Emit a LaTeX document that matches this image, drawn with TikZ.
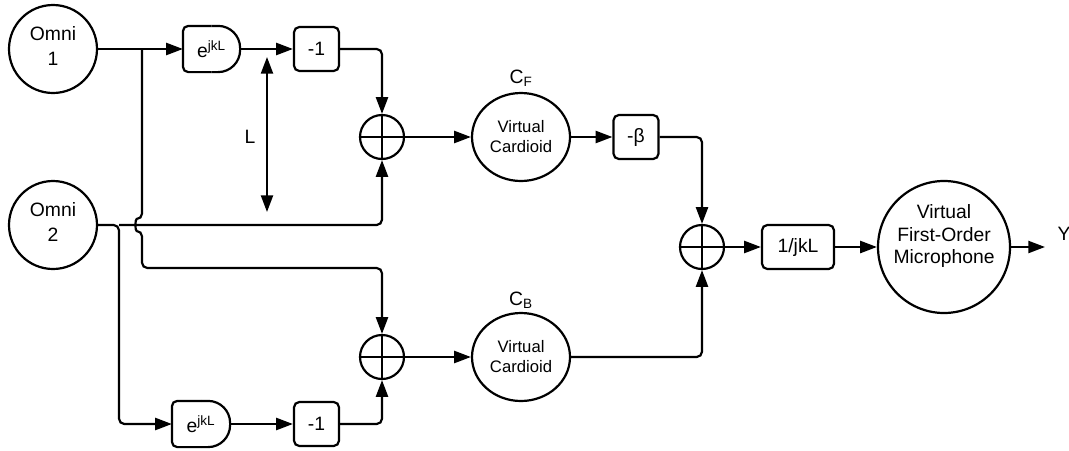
\documentclass[tikz,border=0pt]{standalone}
\usepackage{fontspec}
\setmainfont{Liberation Sans}
\usetikzlibrary{arrows.meta,shapes.geometric,calc}
\begin{document}
\begin{tikzpicture}[x=0.75pt,y=-0.75pt, line width=1.65pt,
  >={Triangle[length=12.5pt,width=9pt]},
  every node/.style={font=\fontsize{14.5}{18.5}\selectfont, inner sep=0pt},
  omni/.style={circle,draw,minimum size=66pt,align=center},
  box/.style={rectangle,draw,rounded corners=4pt,minimum width=33.75pt,minimum height=33pt},
  delay/.style={rectangle,minimum width=41.25pt,minimum height=33pt},
  sumnode/.style={circle,draw,minimum size=33pt,
    path picture={\draw[line width=1.65pt] (path picture bounding box.north) -- (path picture bounding box.south)
      (path picture bounding box.west) -- (path picture bounding box.east);}},
  card/.style={ellipse,draw,minimum width=73.5pt,minimum height=66pt,align=center,
    font=\fontsize{12.5}{15}\selectfont},
  wire/.style={->,rounded corners=4pt}]
\useasboundingbox (0,0) rectangle (1069,450);

% nodes
\node[omni] (o1) at (53,49) {};
\node[align=center] (o1t) at (53,46) {Omni\\1};
\node[omni] (o2) at (53,225) {};
\node[align=center] (o2t) at (53,222) {Omni\\2};
\node[delay] (d1) at (211.5,49) {e\textsuperscript{jkL}\hspace{5pt}};
\node[box] (m1) at (316.5,49) {-1};
\node[sumnode] (s1) at (382,137) {};
\node[card] (cf) at (521,137) {Virtual\\Cardioid};
\node (cfl) at (521,78) {C\textsubscript{F}};
\node[box] (b) at (636,137) {-β};
\node[sumnode] (s3) at (702,247) {};
\node[box, minimum width=54pt] (k) at (798,247) {1/jkL};
\node[circle,draw,minimum size=99pt] (mic) at (944,247) {};
\node[align=center,font=\fontsize{14.5}{17}\selectfont] (mict) at (944,236) {Virtual\\First-Order\\Microphone};
\coordinate (yend) at (1045,247);
\node (y) at (1064,234) {Y};
\node[sumnode] (s2) at (382,357) {};
\node[card] (cb) at (521,357) {Virtual\\Cardioid};
\node (cbl) at (521,300) {C\textsubscript{B}};
\node[delay, minimum width=42pt] (d2) at (201,424) {e\textsuperscript{jkL}\hspace{5pt}};
\node[box] (m2) at (316.5,424) {-1};
\coordinate (j1) at (142,49);
\coordinate (j2) at (119,225);
\coordinate (La) at (267,57);
\coordinate (Lb) at (267,212);
\node (L) at (250,137) {L};

% delay shapes
\foreach \d in {d1,d2}{
  \draw[rounded corners=4pt] (\d.north) -- (\d.north west) -- (\d.south west) -- (\d.south);
  \draw[rounded corners=16.5pt] (\d.north) -- (\d.north east) -- (\d.south east) -- (\d.south);
}

% connectors
\draw[->] (o1) -- (d1.west);
\draw[->] (d1.east) -- (m1.west);
\draw[wire] (m1.east) -| (s1.north);
\draw[wire] (j1) -- (142,219) .. controls (135,219) and (135,231) .. (142,231) -- (142,268) -| (s2.north);
\draw[wire] (o2) -- (j2) |- (d2.west);
\draw[wire] (j2) -| (s1.south);
\draw[->] (d2.east) -- (m2.west);
\draw[wire] (m2.east) -| (s2.south);
\draw[->] (s1) -- (cf);
\draw[->] (s2) -- (cb);
\draw[->] (cf) -- (b);
\draw[wire] (b.east) -| (s3.north);
\draw[wire] (cb.east) -| (s3.south);
\draw[->] (s3) -- (k);
\draw[->] (k) -- (mic);
\draw[->] (mic) -- (yend);
\draw[<->] (La) -- (Lb);
\end{tikzpicture}
\end{document}
